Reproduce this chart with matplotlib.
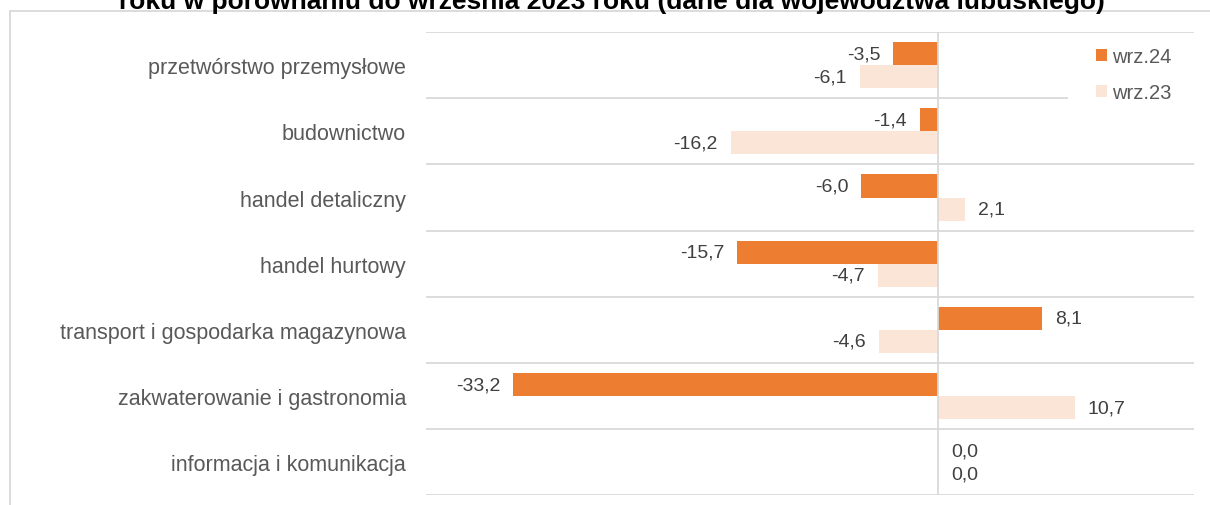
import matplotlib
matplotlib.use("Agg")
import matplotlib.pyplot as plt
from matplotlib.patches import Patch, Rectangle

plt.rcParams['font.family'] = ['Liberation Sans', 'DejaVu Sans']

categories = [
    "przetwórstwo przemysłowe",
    "budownictwo",
    "handel detaliczny",
    "handel hurtowy",
    "transport i gospodarka magazynowa",
    "zakwaterowanie i gastronomia",
    "informacja i komunikacja",
]
wrz24 = [-3.5, -1.4, -6.0, -15.7, 8.1, -33.2, 0.0]
wrz23 = [-6.1, -16.2, 2.1, -4.7, -4.6, 10.7, 0.0]
series_names = ["wrz.24", "wrz.23"]
title_text = "roku w porównaniu do września 2023 roku (dane dla województwa lubuskiego)"

C24 = "#ED7D31"
C23 = "#FBE5D6"
GRID = "#D9D9D9"
W, H = 1210, 506

fig = plt.figure(figsize=(W / 100, H / 100), dpi=100)

def fx(px):
    return px / W

def fy(py):
    return 1 - py / H

# outer chart frame (extends beyond the image on right/bottom)
fig.patches.append(Rectangle((fx(9.5), fy(600)), fx(1400), fy(12) - fy(600),
                             transform=fig.transFigure, fill=False,
                             edgecolor=GRID, linewidth=1.3))

# title (mostly cut off at the top, as in the reference)
fig.text(fx(612), fy(9), title_text, ha="center", va="baseline",
         fontsize=19, fontweight="bold", color="#000000")

left, right, top, bottom = 426, 1194, 33, 496.4
ax = fig.add_axes([fx(left), fy(bottom), fx(right) - fx(left), fy(top) - fy(bottom)])

n = len(categories)
ypos = list(range(n))
h = 0.35
ax.barh([y - h / 2 for y in ypos], wrz24, height=h, color=C24, zorder=2, label=series_names[0])
ax.barh([y + h / 2 for y in ypos], wrz23, height=h, color=C23, zorder=2, label=series_names[1])

ax.set_xlim(-40, 20)
ax.set_ylim(n - 0.5, -0.5)

for b in range(n + 1):
    ax.axhline(b - 0.5, color=GRID, lw=1.3, zorder=1)
ax.axvline(0, color=GRID, lw=1.3, zorder=3)

off = 13 * 72 / 100
for vals, dy in ((wrz24, -h / 2), (wrz23, h / 2)):
    for y, v in zip(ypos, vals):
        s = f"{v:.1f}".replace(".", ",")
        if v < 0:
            ax.annotate(s, (v, y + dy), xytext=(-off, 0), textcoords="offset points",
                        ha="right", va="center", fontsize=14, color="#404040")
        else:
            ax.annotate(s, (v, y + dy), xytext=(off, 0), textcoords="offset points",
                        ha="left", va="center", fontsize=14, color="#404040")

ax.set_yticks(ypos)
ax.set_yticklabels(categories, fontsize=15.5, color="#595959")
ax.tick_params(axis="y", length=0, pad=20 * 72 / 100)
ax.set_xticks([])
for sp in ax.spines.values():
    sp.set_visible(False)

# legend area background (white, covers the gridline like the chart's legend box)
fig.patches.append(Rectangle((fx(1068), fy(112)), fx(1200) - fx(1068), fy(42) - fy(112),
                             transform=fig.transFigure, facecolor="white",
                             edgecolor="none", zorder=4))

handles = [Patch(facecolor=C24, edgecolor="none"), Patch(facecolor=C23, edgecolor="none")]
leg = fig.legend(handles, series_names, loc="upper left",
                 bbox_to_anchor=(fx(1078), fy(30)), bbox_transform=fig.transFigure,
                 fontsize=14.5, handlelength=0.55, handleheight=0.55,
                 handletextpad=0.25, labelspacing=0.85, borderpad=0.4,
                 frameon=False, labelcolor="#595959")
leg.set_zorder(5)

fig.savefig("out.png", dpi=100)
